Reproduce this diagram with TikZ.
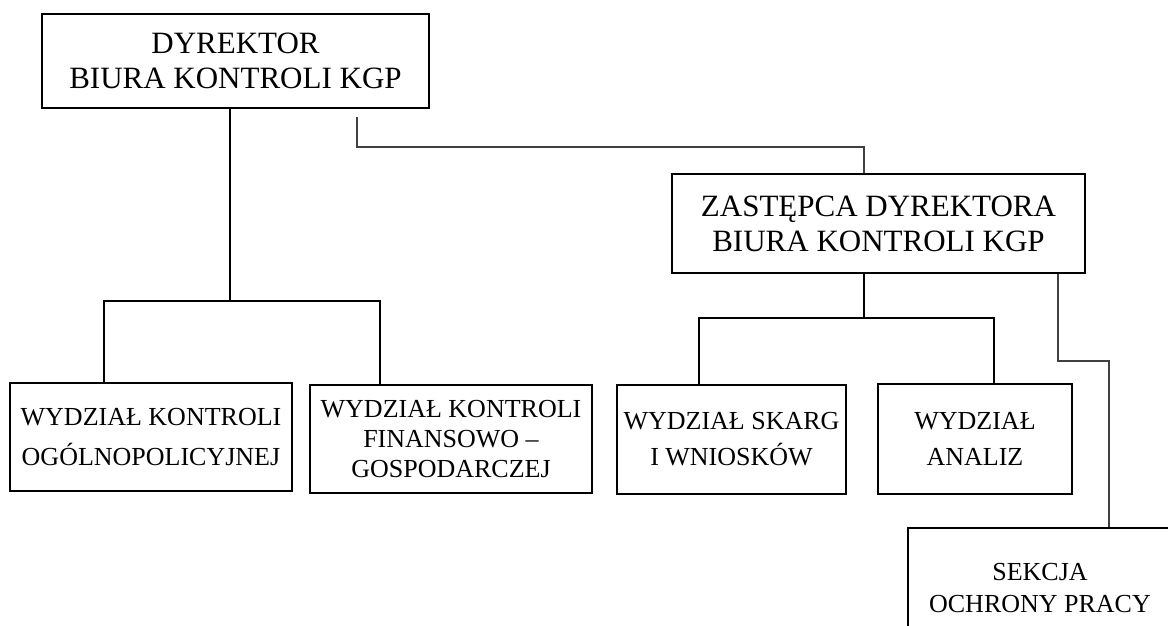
\documentclass[tikz,border=0pt]{standalone}
\usepackage{fontspec}
\setmainfont{Liberation Serif}
\begin{document}
\begin{tikzpicture}[x=1pt,y=-1pt,
  unit/.style={draw=black,line width=1.3pt,rectangle,inner sep=0pt,align=center,font=\fontsize{26}{30}\selectfont},
  head/.style={unit,font=\fontsize{31}{35}\selectfont},
  link/.style={line width=1.1pt,black},
  glink/.style={line width=1.1pt,black!75}]
\useasboundingbox (0,0) rectangle (1168,626);
\node[head,minimum width=387pt,minimum height=94pt] (dyr) at (235.5,61) {DYREKTOR\\BIURA KONTROLI KGP};
\node[head,minimum width=413pt,minimum height=99pt] (zast) at (878.5,223.5) {ZASTĘPCA DYREKTORA\\BIURA KONTROLI KGP};
\node[unit,minimum width=282pt,minimum height=108pt,font=\fontsize{26}{40}\selectfont] (b1) at (151,437) {WYDZIAŁ KONTROLI\\OGÓLNOPOLICYJNEJ};
\node[unit,minimum width=282pt,minimum height=108pt] (b2) at (451,439) {WYDZIAŁ KONTROLI\\FINANSOWO –\\GOSPODARCZEJ};
\node[unit,minimum width=229pt,minimum height=109pt,font=\fontsize{26}{36}\selectfont] (b3) at (731.5,439.5) {WYDZIAŁ SKARG\\I WNIOSKÓW};
\node[unit,minimum width=194pt,minimum height=110pt,font=\fontsize{26}{36}\selectfont] (b4) at (975,439) {WYDZIAŁ\\ANALIZ};
\node[unit,minimum width=264pt,minimum height=120pt,font=\fontsize{26}{32}\selectfont] (sek) at (1040,588) {SEKCJA\\OCHRONY PRACY};
% director to departments
\coordinate (j1) at (230,301);
\coordinate (l1) at (104,301);
\coordinate (r1) at (380,301);
\draw[link] (dyr.south -| j1) -- (j1);
\draw[link] (l1 |- b1.north) -- (l1) -- (r1) -- (r1 |- b2.north);
% director to deputy
\coordinate (s0) at (357,117);
\coordinate (s1) at (864,147);
\draw[glink] (s0) |- (s1) -- (s1 |- zast.north);
% deputy to departments
\coordinate (j2) at (864,318);
\coordinate (l2) at (699,318);
\coordinate (r2) at (994,318);
\draw[link] (zast.south -| j2) -- (j2);
\draw[link] (l2 |- b3.north) -- (l2) -- (r2) -- (r2 |- b4.north);
% deputy to section
\coordinate (t0) at (1058,361);
\coordinate (t1) at (1109,361);
\draw[glink] (zast.south -| t0) -- (t0) -- (t1) -- (t1 |- sek.north);
\end{tikzpicture}
\end{document}
